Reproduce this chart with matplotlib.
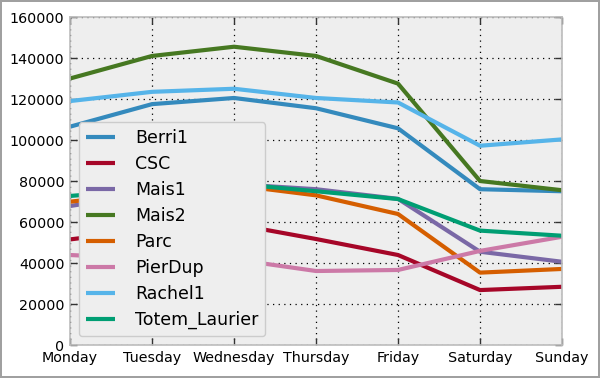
import matplotlib
matplotlib.use("Agg")
import matplotlib.pyplot as plt
import numpy as np

days = ["Monday", "Tuesday", "Wednesday", "Thursday", "Friday", "Saturday", "Sunday"]
Berri1 = [106500, 117500, 120500, 115500, 105700, 76000, 75000]
CSC = [51500, 56500, 59000, 51700, 43900, 26800, 28400]
Mais1 = [67800, 74000, 78500, 76000, 71300, 45500, 40600]
Mais2 = [130000, 141000, 145500, 141000, 127500, 80000, 75500]
Parc = [69900, 74500, 78000, 73000, 63900, 35300, 37100]
PierDup = [43900, 42000, 41800, 36100, 36600, 45900, 52800]
Rachel1 = [119000, 123500, 125000, 120500, 118300, 97200, 100300]
Totem_Laurier = [72700, 76000, 78700, 75000, 71200, 55800, 53300]

series = [("Berri1", Berri1), ("CSC", CSC), ("Mais1", Mais1), ("Mais2", Mais2),
          ("Parc", Parc), ("PierDup", PierDup), ("Rachel1", Rachel1),
          ("Totem_Laurier", Totem_Laurier)]
colors = ['#348ABD', '#A60628', '#7A68A6', '#467821', '#D55E00', '#CC79A7', '#56B4E9', '#009E73']

fig = plt.figure(figsize=(6, 3.78), dpi=100)
fig.patch.set_edgecolor('#a0a0a0')
fig.patch.set_linewidth(1.5)
ax = fig.add_axes([0.1167, 0.0873, 0.82, 0.8677])
ax.set_facecolor('#eeeeee')
x = np.arange(len(days))
for (name, vals), c in zip(series, colors):
    ax.plot(x, vals, color=c, lw=3, label=name, solid_capstyle='butt')

ax.set_xlim(0, 6)
ax.set_ylim(0, 160000)
ax.set_xticks(x)
ax.set_xticklabels(days)
ax.set_yticks(np.arange(0, 160001, 20000))
ax.tick_params(axis='both', which='both', direction='in', length=5, width=1,
               color='#333333', labelsize=10.3, top=True, right=True, pad=4)
ax.grid(True, color='black', linestyle=(0, (1, 3.5)), linewidth=0.9)
ax.set_axisbelow(True)
for s in ax.spines.values():
    s.set_color('#bcbcbc')
    s.set_linewidth(1.2)

leg = ax.legend(loc='lower left', fontsize=12.5, handlelength=1.7, handletextpad=1.15,
                labelspacing=0.46, fancybox=True, framealpha=1.0, borderaxespad=0.5)
leg.get_frame().set_facecolor('#eeeeee')
leg.get_frame().set_edgecolor('#cccccc')

fig.savefig("out.png", dpi=100)
